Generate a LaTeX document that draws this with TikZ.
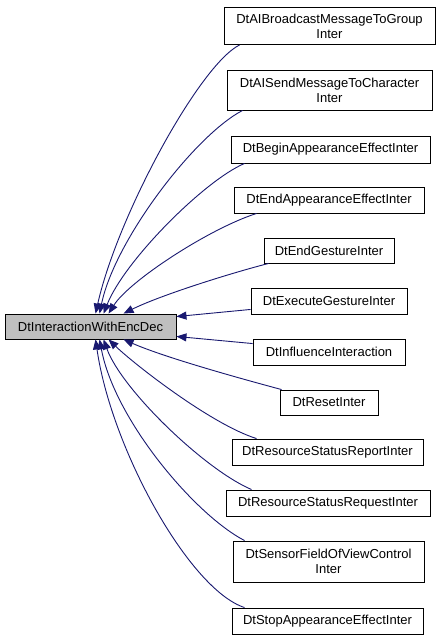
\documentclass[tikz,border=0pt]{standalone}
\usepackage{fontspec}
\setmainfont{Liberation Sans}
\usetikzlibrary{arrows.meta}
\definecolor{edgeblue}{HTML}{191970}
\definecolor{basegray}{HTML}{BFBFBF}
\begin{document}
\begin{tikzpicture}[x=1pt,y=-1pt,
  box/.style={draw=black, line width=0.9pt, fill=white, inner sep=0pt, align=center,
    font=\fontsize{13}{15}\selectfont},
  basebox/.style={box, fill=basegray},
  inh/.style={draw=edgeblue, line width=0.9pt, -{Triangle[length=10pt,width=8pt]}, edgeblue}]
\useasboundingbox (0,0) rectangle (440,640);
\fill[white] (0,0) rectangle (440,640);
\node[basebox, minimum width=171pt, minimum height=25pt] (m) at (90.5,326.5) {DtInteractionWithEncDec};
\node[box, minimum width=211pt, minimum height=37pt] (c1) at (329.5,26) {DtAIBroadcastMessageToGroup\\Inter};
\node[box, minimum width=205pt, minimum height=40pt] (c2) at (329.5,90) {DtAISendMessageToCharacter\\Inter};
\node[box, minimum width=199pt, minimum height=27pt] (c3) at (330.5,149.5) {DtBeginAppearanceEffectInter};
\node[box, minimum width=190pt, minimum height=26pt] (c4) at (329,200) {DtEndAppearanceEffectInter};
\node[box, minimum width=130pt, minimum height=25pt] (c5) at (329,250.5) {DtEndGestureInter};
\node[box, minimum width=156pt, minimum height=26pt] (c6) at (329,301) {DtExecuteGestureInter};
\node[box, minimum width=152pt, minimum height=26pt] (c7) at (329,352) {DtInfluenceInteraction};
\node[box, minimum width=98pt, minimum height=25pt] (c8) at (329,402.5) {DtResetInter};
\node[box, minimum width=191pt, minimum height=26pt] (c9) at (327.5,452) {DtResourceStatusReportInter};
\node[box, minimum width=204pt, minimum height=26pt] (c10) at (328,503) {DtResourceStatusRequestInter};
\node[box, minimum width=191pt, minimum height=41pt] (c11) at (328.5,561.5) {DtSensorFieldOfViewControl\\Inter};
\node[box, minimum width=191pt, minimum height=26pt] (c12) at (327.5,621) {DtStopAppearanceEffectInter};

\draw[inh] ([xshift=16pt]c1.south west) .. controls +(-40,20) and +(22,-98) .. ([xshift=91pt]m.north west);
\draw[inh] ([xshift=16pt]c2.south west) .. controls +(-48,25) and +(15,-73) .. ([xshift=95pt]m.north west);
\draw[inh] ([xshift=14pt]c3.south west) .. controls +(-40,17) and +(21,-53) .. ([xshift=99pt]m.north west);
\draw[inh] ([xshift=23pt]c4.south west) .. controls +(-47,15) and +(21,-33) .. ([xshift=104pt]m.north west);
\draw[inh] ([xshift=5pt]c5.south west) .. controls +(-39,10) and +(36,-18) .. ([xshift=119pt]m.north west);
\draw[inh] ([yshift=5pt]c6.south west) -- ([yshift=-3pt]m.north east);
\draw[inh] ([yshift=-5pt]c7.north west) -- ([yshift=3pt]m.south east);
\draw[inh] ([xshift=2pt]c8.north west) .. controls +(-41,-11) and +(41,18) .. ([xshift=119pt]m.south west);
\draw[inh] ([xshift=25pt]c9.north west) .. controls +(-45,-14) and +(26,25) .. ([xshift=104pt]m.south west);
\draw[inh] ([xshift=26pt]c10.north west) .. controls +(-47,-20) and +(18,50) .. ([xshift=99pt]m.south west);
\draw[inh] ([xshift=12pt]c11.north west) .. controls +(-50,-26) and +(15,80) .. ([xshift=95pt]m.south west);
\draw[inh] ([xshift=13pt]c12.north west) .. controls +(-55,-18) and +(16,110) .. ([xshift=91pt]m.south west);
\end{tikzpicture}
\end{document}
